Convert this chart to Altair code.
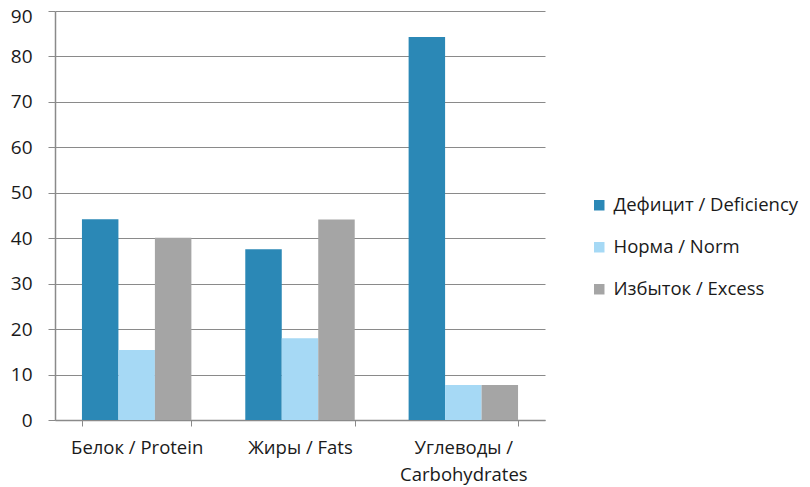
import altair as alt
import pandas as pd

categories = ["Белок / Protein", "Жиры / Fats", "Углеводы / Carbohydrates"]
series = ["Дефицит / Deficiency", "Норма / Norm", "Избыток / Excess"]
deficiency = [44.2, 37.6, 84.3]
norm = [15.4, 18.0, 7.7]
excess = [40.1, 44.1, 7.7]
colors = ["#2B88B6", "#A6D9F5", "#A5A5A5"]

rows = []
for i, c in enumerate(categories):
    for s, vals in zip(series, [deficiency, norm, excess]):
        rows.append({"cat": c, "series": s, "value": vals[i]})
df = pd.DataFrame(rows)

font = "Open Sans"

chart = alt.Chart(df).mark_bar().encode(
    x=alt.X("cat:N", sort=categories, title=None,
            scale=alt.Scale(paddingInner=0.33, paddingOuter=0.165),
            axis=alt.Axis(labelAngle=0, labelFontSize=18.5, labelFont=font, labelColor="#1a1a1a",
                          labelPadding=12, tickBand="extent", tickColor="#8a8a8a", tickSize=6,
                          domainColor="#8a8a8a", labelLineHeight=27,
                          labelExpr="datum.label == 'Углеводы / Carbohydrates' ? ['Углеводы /', 'Carbohydrates'] : datum.label")),
    xOffset=alt.XOffset("series:N", sort=series),
    y=alt.Y("value:Q", title=None,
            scale=alt.Scale(domain=[0, 90], nice=False),
            axis=alt.Axis(values=list(range(0, 91, 10)), labelFontSize=19, labelFont=font,
                          labelColor="#1a1a1a", tickColor="#8a8a8a", tickSize=7, labelPadding=16,
                          labelOffset={"condition": {"test": "datum.value == 90", "value": 5}, "value": 0},
                          domainColor="#8a8a8a", gridColor="#8a8a8a", grid=True)),
    color=alt.Color("series:N", sort=series, title=None,
                    scale=alt.Scale(domain=series, range=colors),
                    legend=alt.Legend(orient="none", legendX=535, legendY=185, symbolType="square",
                                      symbolSize=110, symbolStrokeWidth=0, labelFontSize=18.5,
                                      labelFont=font, labelColor="#1a1a1a", rowPadding=23,
                                      labelOffset=5, labelLimit=300)),
).properties(
    width=490, height=409,
    autosize=alt.AutoSizeParams(type="none"),
    padding={"left": 47, "top": 3, "right": 257, "bottom": 66},
).configure_view(stroke=None).configure_axis(domainWidth=1.5, gridWidth=1)

chart.save("out.html", embed_options={"renderer": "svg", "actions": False})
